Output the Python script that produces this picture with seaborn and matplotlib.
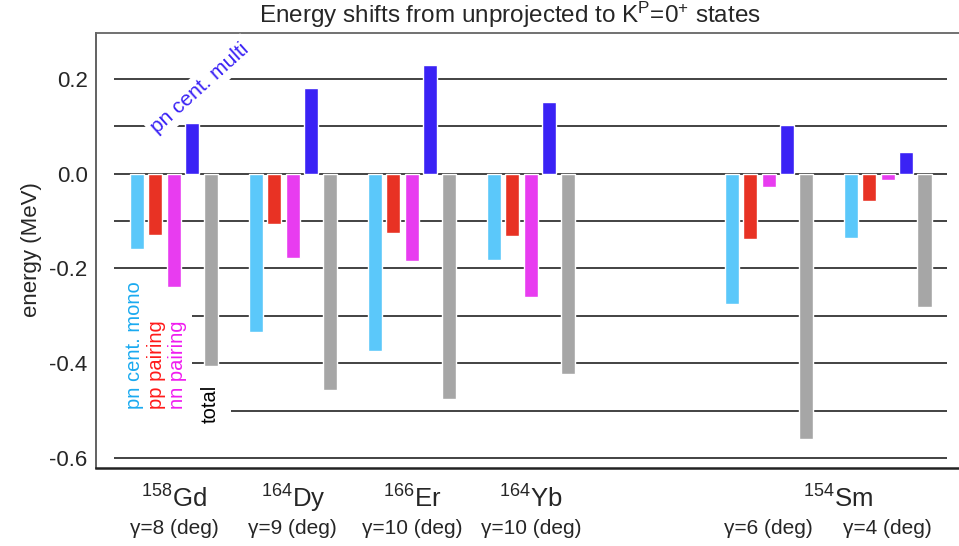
import numpy as np
import pandas as pd
import matplotlib
matplotlib.use("Agg")
import matplotlib.pyplot as plt
import matplotlib.transforms as mtransforms
from matplotlib.patches import Rectangle
import seaborn as sns

# =====================================
# Data
# =====================================

slots = ["Gd", "Dy", "Er", "Yb", "Sm6", "Sm4"]
slot_order = ["Gd", "Dy", "Er", "Yb", " ", "Sm6", "Sm4"]

components = ["pn cent. mono", "pp pairing", "nn pairing", "pn cent. multi", "total"]
colors = ["#5bc8fa", "#e83224", "#e83cf0", "#3a22f5", "#a6a6a6"]

mono = [-0.158, -0.333, -0.374, -0.183, -0.276, -0.135]
pp_pair = [-0.129, -0.107, -0.126, -0.132, -0.138, -0.058]
nn_pair = [-0.239, -0.178, -0.185, -0.260, -0.029, -0.013]
multi = [0.107, 0.180, 0.229, 0.152, 0.103, 0.046]
total = [-0.405, -0.457, -0.476, -0.422, -0.560, -0.281]

nuclei = [r"$^{158}$Gd", r"$^{164}$Dy", r"$^{166}$Er", r"$^{164}$Yb", r"$^{154}$Sm"]
nuclei_x = [0, 1, 2, 3, 5.58]
gammas = ["γ=8 (deg)", "γ=9 (deg)", "γ=10 (deg)", "γ=10 (deg)", "γ=6 (deg)", "γ=4 (deg)"]
gamma_x = [0, 1, 2, 3, 5, 6]

yticks = [0.2, 0.0, -0.2, -0.4, -0.6]
grid_levels = [0.2, 0.1, 0.0, -0.1, -0.2, -0.3, -0.4, -0.5, -0.6]

rows = []
for name, vals in zip(components, [mono, pp_pair, nn_pair, multi, total]):
    for s, v in zip(slots, vals):
        rows.append({"nucleus": s, "component": name, "energy": v})
df = pd.DataFrame(rows)

# =====================================
# Style
# =====================================

sns.set_style("white")
plt.rcParams["font.family"] = ["Liberation Sans", "DejaVu Sans"]
plt.rcParams["mathtext.fontset"] = "custom"
plt.rcParams["mathtext.rm"] = "Liberation Sans"
plt.rcParams["mathtext.it"] = "Liberation Sans:italic"
plt.rcParams["axes.unicode_minus"] = False

fig = plt.figure(figsize=(9.59, 5.46), dpi=100)
ax = fig.add_axes([96 / 959, 1 - 467.5 / 546, 1 - 96 / 959, (467.5 - 32.5) / 546])

sns.barplot(
    data=df,
    x="nucleus",
    y="energy",
    hue="component",
    order=slot_order,
    hue_order=components,
    palette=colors,
    saturation=1,
    width=0.775,
    gap=0.24,
    errorbar=None,
    legend=False,
    ax=ax,
    zorder=2,
)

ax.hlines(grid_levels, -0.5, 6.5, color="#222222", lw=1.2, zorder=0.5)

# white patches where the reference breaks the grid lines behind the labels
ax.add_patch(Rectangle((-0.52, -0.52), 0.668, 0.27, facecolor="white",
                       edgecolor="none", zorder=1))
ax.add_patch(Rectangle((0.14, -0.53), 0.34, 0.08, facecolor="white",
                       edgecolor="none", zorder=1))

ax.set_xlim(-0.655, 6.6)
ax.set_ylim(-0.62, 0.298)

ax.set_xticks([])
ax.set_xlabel("")
ax.set_yticks(yticks)
ax.set_yticklabels([f"{t:.1f}" for t in yticks], fontsize=16)
ax.tick_params(axis="y", length=0, pad=6)
ax.set_ylabel("energy (MeV)", fontsize=16, labelpad=5)

ax.spines["right"].set_visible(False)
ax.spines["left"].set_color("#555555")
ax.spines["top"].set_color("#666666")
ax.spines["bottom"].set_color("#222222")
for side in ["left", "top"]:
    ax.spines[side].set_linewidth(1.3)
ax.spines["bottom"].set_linewidth(1.8)

# =====================================
# Labels
# =====================================

fig.text(510 / 959, 1 - 15 / 546,
         r"Energy shifts from unprojected to K$^{\rm P}$=0$^{+}$ states",
         ha="center", va="center", fontsize=17.5)

trans = mtransforms.blended_transform_factory(ax.transData, fig.transFigure)
for x, name in zip(nuclei_x, nuclei):
    ax.text(x, 1 - 508 / 546, name, transform=trans, ha="center",
            va="baseline", fontsize=18.5)
for x, g in zip(gamma_x, gammas):
    ax.text(x, 1 - 528 / 546, g, transform=trans, ha="center",
            va="center", fontsize=15)

white_box = dict(facecolor="white", edgecolor="none", pad=3)

ax.text(0.218, 0.181, "pn cent. multi", color=colors[3], rotation=42,
        ha="center", va="center", fontsize=15, bbox=white_box, zorder=3)

side_labels = [
    (-0.33, "pn cent. mono", "#1aaaf0"),
    (-0.15, "pp pairing", "#ff1a1a"),
    (0.03, "nn pairing", "#f01cf0"),
]
for x, txt, c in side_labels:
    ax.text(x, -0.4975, txt, color=c, rotation=90, ha="center",
            va="bottom", fontsize=14.5, zorder=3)
ax.text(0.303, -0.527, "total", color="black", rotation=90, ha="center",
        va="bottom", fontsize=14.5, zorder=3)

plt.savefig("out.png", dpi=100)
plt.close()
